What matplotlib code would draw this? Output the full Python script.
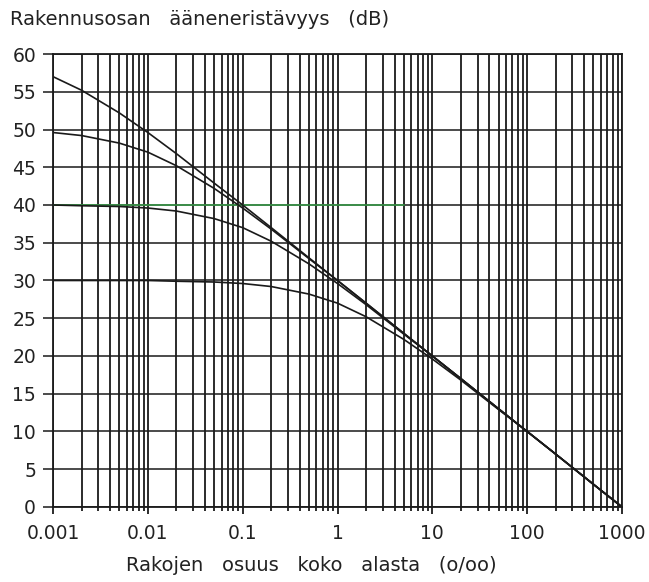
import matplotlib
matplotlib.use('Agg')
import matplotlib.pyplot as plt
from matplotlib.ticker import LogLocator, FixedLocator, NullFormatter

# osuus (o/oo) ja rakennusosan ääneneristävyys eri perusarvoilla
gap_share = [0.001, 0.002, 0.005, 0.01, 0.02, 0.05, 0.1, 0.2, 0.5,
             1, 2, 5, 10, 20, 50, 100, 200, 500, 1000]
r_60 = [57.0, 55.2, 52.2, 49.6, 46.8, 42.9, 40.0, 37.0, 33.0,
        30.0, 27.0, 23.0, 20.0, 17.0, 13.0, 10.0, 7.0, 3.0, 0.0]
r_50 = [49.6, 49.2, 48.2, 47.0, 45.2, 42.2, 39.6, 36.8, 32.9,
        30.0, 27.0, 23.0, 20.0, 17.0, 13.0, 10.0, 7.0, 3.0, 0.0]
r_40 = [40.0, 39.9, 39.8, 39.6, 39.2, 38.2, 37.0, 35.2, 32.2,
        29.6, 26.8, 22.9, 20.0, 17.0, 13.0, 10.0, 7.0, 3.0, 0.0]
r_30 = [30.0, 30.0, 30.0, 30.0, 29.9, 29.8, 29.6, 29.2, 28.2,
        27.0, 25.2, 22.2, 19.6, 16.8, 12.9, 10.0, 7.0, 3.0, 0.0]
green_x = [0.001, 5]
green_y = [40, 40]

y_ticks = [0, 5, 10, 15, 20, 25, 30, 35, 40, 45, 50, 55, 60]
x_ticks = [0.001, 0.01, 0.1, 1, 10, 100, 1000]
x_labels = ['0.001', '0.01', '0.1', '1', '10', '100', '1000']

plt.rcParams['font.family'] = ['DejaVu Sans']
ink = '#1a1a1a'

fig = plt.figure(figsize=(6.49, 5.82), dpi=100)
ax = fig.add_axes([0.0817, 0.1289, 0.8767, 0.7783])

ax.set_xscale('log')
ax.set_xlim(0.001, 1000)
ax.set_ylim(0, 60)

ax.xaxis.set_major_locator(FixedLocator(x_ticks))
ax.set_xticklabels(x_labels)
ax.xaxis.set_minor_locator(LogLocator(base=10, subs=range(2, 10), numticks=20))
ax.xaxis.set_minor_formatter(NullFormatter())
ax.set_yticks(y_ticks)

ax.grid(True, which='both', axis='x', color=ink, linewidth=1.3)
ax.grid(True, which='major', axis='y', color=ink, linewidth=1.1)
ax.set_axisbelow(True)

for s in ax.spines.values():
    s.set_linewidth(1.3)
    s.set_color(ink)

ax.tick_params(axis='y', length=7.2, width=1.1, labelsize=13.5, pad=5,
               colors=ink, labelcolor='#222222')
ax.tick_params(axis='x', which='major', length=5, width=1.3, labelsize=13.5,
               pad=7, colors=ink, labelcolor='#222222')
ax.tick_params(axis='x', which='minor', length=3, width=1.3, colors=ink)

ax.plot(green_x, green_y, color='#3aa04a', linewidth=1.1, zorder=3)
for r in (r_60, r_50, r_40, r_30):
    ax.plot(gap_share, r, color=ink, linewidth=1.2, zorder=4)

fig.text(0.015, 0.957, 'Rakennusosan   ääneneristävyys   (dB)', fontsize=14,
         color='#222222', ha='left', va='baseline')
fig.text(0.479, 0.019, 'Rakojen   osuus   koko   alasta   (o/oo)', fontsize=14,
         color='#222222', ha='center', va='baseline')

fig.savefig('out.png', dpi=100, facecolor='white')
